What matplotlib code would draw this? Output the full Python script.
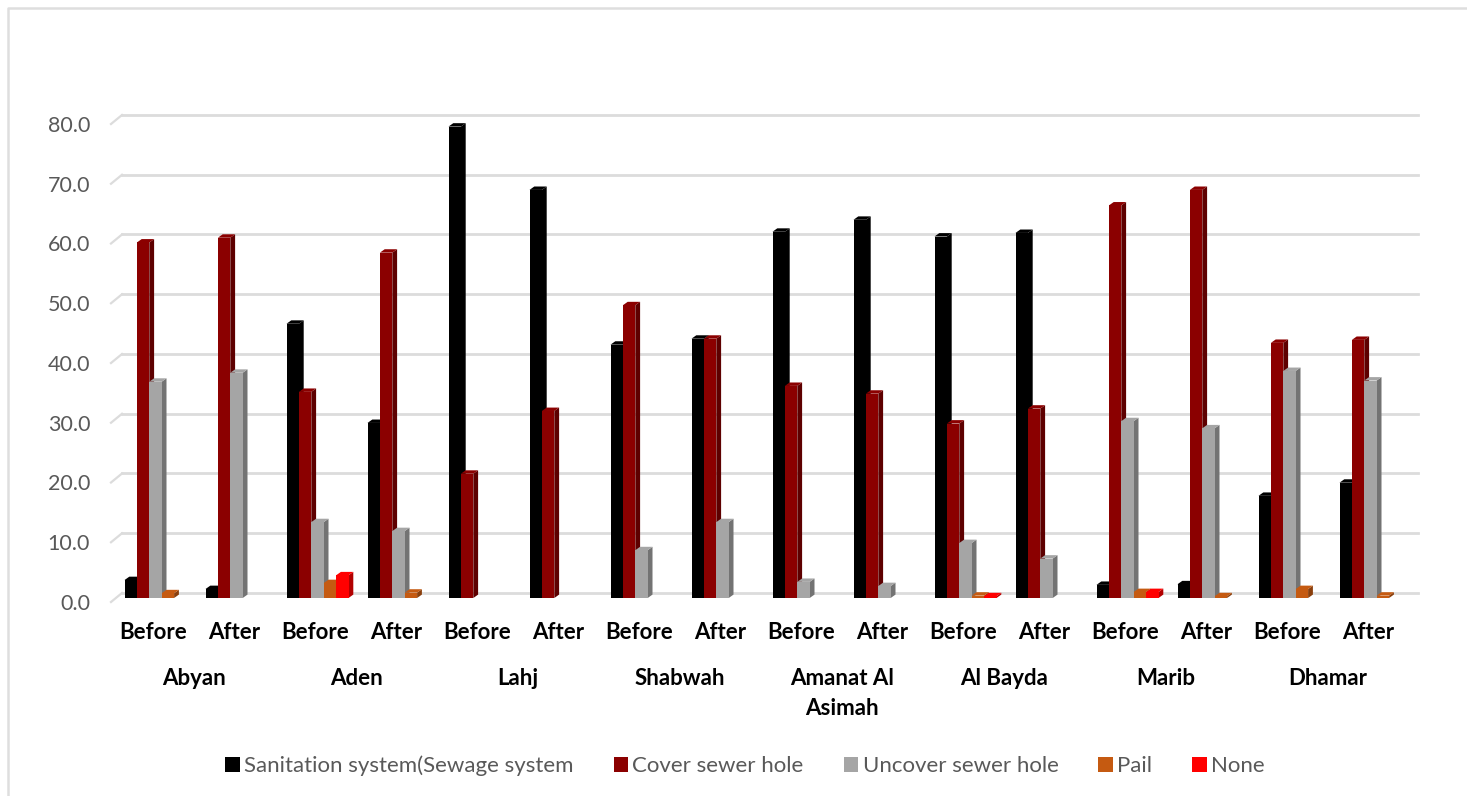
import numpy as np
import matplotlib
matplotlib.use("Agg")
import matplotlib.pyplot as plt
from matplotlib.lines import Line2D
from matplotlib.patches import Patch, Polygon
from matplotlib.transforms import ScaledTranslation

plt.rcParams["font.family"] = ["Lato", "DejaVu Sans"]

W, H = 1467, 796

regions = ["Abyan", "Aden", "Lahj", "Shabwah", "Amanat Al\nAsimah", "Al Bayda", "Marib", "Dhamar"]
periods = ["Before", "After"] * 8
yticks = [0, 10, 20, 30, 40, 50, 60, 70, 80]

sewage = [3.0, 1.5, 45.9, 29.3, 78.9, 68.3, 42.4, 43.4, 61.3, 63.3, 60.5, 61.1, 2.2, 2.3, 17.1, 19.3]
cover = [59.5, 60.3, 34.5, 57.8, 20.8, 31.3, 49.0, 43.4, 35.5, 34.2, 29.2, 31.7, 65.7, 68.3, 42.7, 43.2]
uncover = [36.2, 37.7, 12.7, 11.2, 0, 0, 8.0, 12.7, 2.7, 2.0, 9.2, 6.6, 29.6, 28.4, 38.0, 36.4]
pail = [0.8, 0, 2.5, 0.9, 0, 0, 0, 0, 0, 0, 0.4, 0, 1.0, 0.3, 1.5, 0.4]
none = [0, 0, 3.8, 0, 0, 0, 0, 0, 0, 0, 0.3, 0, 1.0, 0, 0, 0]

series = [sewage, cover, uncover, pail, none]
names = ["Sanitation system(Sewage system", "Cover sewer hole", "Uncover sewer hole", "Pail", "None"]
front = ["#000000", "#8b0000", "#a5a5a5", "#c55a11", "#ff0000"]
side = ["#000000", "#5e0000", "#737373", "#8a3f0c", "#b20000"]
top = ["#000000", "#8b0000", "#a5a5a5", "#c55a11", "#ff0000"]

# pixel scale of the front plane
px_x = 81.0
px_y = 5.97
bar_w = 12.4 / px_x
dx = 4.8 / px_x
dy = 3.4 / px_y

fig = plt.figure(figsize=(W / 100, H / 100), dpi=100)

# only the top and left edge of the chart frame are in the picture
fig.add_artist(Line2D([8 / W, 8 / W, 1], [0, 1 - 8 / H, 1 - 8 / H], color="#dedede", lw=1.8,
                      transform=fig.transFigure))

# axes run from px 111..1418 across, y=0 at px 598
ax = fig.add_axes([111 / W, 1 - 598 / H, (1418 - 111) / W, (598 - 120) / H])
ax.set_xlim((111 - 153.5) / px_x, (1418 - 153.5) / px_x)
ax.set_ylim(0, 80)
for s in ax.spines.values():
    s.set_visible(False)
ax.patch.set_alpha(0)

# back wall grid with the short floor stub on the left
x0, x1 = ax.get_xlim()
for v in yticks:
    back = v + 5.0 / px_y
    stub = v - 4.0 / px_y
    ax.plot([x0 + 11 / px_x, x1], [back, back], color="#dcdcdc", lw=2, clip_on=False, zorder=1)
    ax.plot([x0, x0 + 11 / px_x], [stub, back], color="#dcdcdc", lw=1.6, clip_on=False, zorder=1)

x = np.arange(16)
for j, vals in enumerate(series):
    left = x - 29 / px_x + j * bar_w
    for xl, v in zip(left, vals):
        if v <= 0:
            continue
        ax.add_patch(Polygon([(xl + bar_w, 0), (xl + bar_w + dx, dy), (xl + bar_w + dx, v + dy), (xl + bar_w, v)],
                             facecolor=side[j], edgecolor="none", zorder=3 + j, clip_on=False))
        ax.add_patch(Polygon([(xl, v), (xl + dx, v + dy), (xl + bar_w + dx, v + dy), (xl + bar_w, v)],
                             facecolor=top[j], edgecolor="none", zorder=3 + j, clip_on=False))
    ax.bar(left, vals, width=bar_w, align="edge", color=front[j], zorder=3 + j)

ax.set_yticks(yticks)
ax.set_yticklabels([f"{v:.1f}" for v in yticks], color="#595959", fontsize=15.5)
ax.set_xticks(x)
ax.set_xticklabels(periods, fontsize=16, fontweight="bold", color="black")
ax.tick_params(axis="both", length=0)
ax.tick_params(axis="x", pad=17)
ax.tick_params(axis="y", pad=15)

# the value labels sit a little below their grid lines
shift = ScaledTranslation(0, -4 / 100, fig.dpi_scale_trans)
for lab in ax.get_yticklabels():
    lab.set_transform(lab.get_transform() + shift)

trans = ax.get_xaxis_transform()
for i, r in enumerate(regions):
    ax.text(2 * i + 0.5, -(668 - 598) / 478, r, transform=trans, ha="center", va="top",
            fontsize=16, fontweight="bold", color="black", linespacing=1.55)

handles = [Patch(facecolor=c, label=n) for c, n in zip(front, names)]
fig.legend(handles=handles, loc="center", bbox_to_anchor=(745 / W, 1 - 766 / H), ncol=5, frameon=False,
           fontsize=16, labelcolor="#595959", handlelength=0.65, handleheight=0.65, handletextpad=0.2,
           columnspacing=1.8)

fig.savefig("out.png", dpi=100)
